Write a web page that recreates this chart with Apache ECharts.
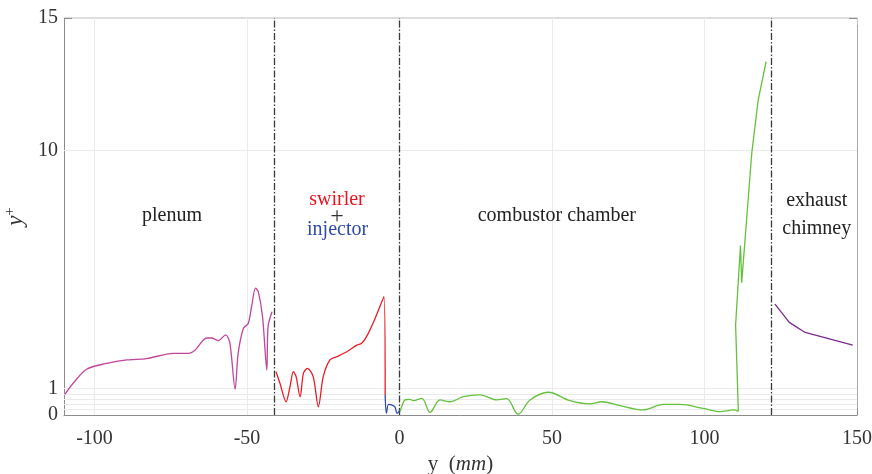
<!DOCTYPE html>
<html>
<head>
<meta charset="utf-8">
<script src="https://cdn.jsdelivr.net/npm/echarts@6/dist/echarts.min.js"></script>
<style>
  html, body { margin: 0; padding: 0; background: #fff; }
  #chart { width: 872px; height: 474px; }
</style>
</head>
<body>
<div id="chart"></div>
<script>
// y+ along the wall, [y (mm), y+] per zone
const plenum = [[-109.7,0.78],[-107,1.2],[-102.6,1.73],[-96,1.95],[-89.4,2.08],[-82.9,2.13],[-74.2,2.33],
  [-69.2,2.33],[-67,2.46],[-63.2,2.91],[-61.6,2.91],[-59.4,2.81],[-57,3.03],[-55.6,2.71],[-53.9,0.98],
  [-52.9,2.33],[-51.2,3.27],[-49.6,3.46],[-48.5,4.09],[-47.2,4.79],[-46.3,4.66],[-44.9,3.71],[-43.5,1.7],
  [-43.1,3.34],[-41.8,3.9]];
const swirler = [[-40.5,1.64],[-39.2,1.2],[-37.2,0.5],[-35.9,1.07],[-34.8,1.64],[-33.9,1.45],[-32.6,0.69],
  [-31.5,1.57],[-30.2,1.76],[-28.3,1.45],[-26.6,0.31],[-25,1.45],[-22.8,2.08],[-20.6,2.2],[-17.3,2.39],
  [-14,2.64],[-12.4,2.71],[-10.8,2.96],[-8,3.65],[-5.1,4.47],[-4.7,0.76]];
const injector = [[-4.7,0.76],[-4.3,0.06],[-3.6,0.4],[-2.6,0.38],[-1.5,0.31],[-0.8,0.06],[0.1,0.2]];
const combustorWall = [[0.16,0.13],[0.7,0.31],[1.8,0.57],[3.4,0.59],[4.5,0.54],[7.3,0.63],[10,0.1],[13.3,0.57],
  [16.6,0.5],[20.9,0.69],[26.4,0.76],[31.9,0.57],[35.1,0.62],[38.9,0.03],[42.8,0.57],[48.8,0.86],
  [55.9,0.54],[62.5,0.42],[66.3,0.5],[72.3,0.35],[79.9,0.19],[86.5,0.4],[92,0.4],[99.6,0.25],
  [105.1,0.13],[109.5,0.19],[111.1,0.14]];
const combustorOutlet = [[111.1,0.14],[110.2,3.4],[111.8,6.4],[112.2,5.0],[115.5,9.9],[117.6,11.9],[120.2,13.35]];
const exhaust = [[123.1,4.19],[127.8,3.5],[133,3.12],[148.6,2.64]];

const boundaries = [-41, 0, 122];
const xTicks = [-100, -50, 0, 50, 100, 150];
const yTicks = [0, 1, 10, 15];
const yMinorTicks = [0, 0.2, 0.4, 0.6, 0.8, 1, 10, 15];
const xGrid = [-100, -50, 0, 50, 100];
const yGrid = [0.2, 0.4, 0.6, 0.8, 1, 10];

// zone labels: [text, x, y, colour, size]
const zoneLabels = [
  ['plenum', -74.6, 7.52, '#222', 20],
  ['swirler', -20.5, 8.12, '#e8141f', 20],
  ['+', -20.5, 7.5, '#333', 24],
  ['injector', -20.3, 6.99, '#2f4aa8', 20],
  ['combustor chamber', 51.6, 7.52, '#222', 20],
  ['exhaust', 136.8, 8.08, '#222', 20],
  ['chimney', 136.8, 7.03, '#222', 20]
];

const serif = 'Liberation Serif';
let chart = echarts.init(document.getElementById('chart'));

function zone(data, color, smooth) {
  return {
    type: 'line', data: data, showSymbol: false, symbol: 'none', z: 5, smooth: smooth,
    lineStyle: {color: color, width: 1.3}, itemStyle: {color: color}
  };
}

let option = {
  animation: false,
  grid: {left: 64, right: 15, top: 18, bottom: 59, outerBoundsMode: 'none', containLabel: false},
  xAxis: [{
    type: 'value', min: -110, max: 150,
    name: 'y  ({i|mm})', nameLocation: 'middle', nameGap: 38,
    nameTextStyle: {fontFamily: serif, fontSize: 21, color: '#333',
      rich: {i: {fontFamily: serif, fontStyle: 'italic', fontSize: 21, color: '#333'}}},
    axisLine: {onZero: false, lineStyle: {color: '#8c8c8c', width: 1}},
    axisTick: {inside: true, length: 7, customValues: xTicks, lineStyle: {color: '#8c8c8c'}},
    axisLabel: {customValues: xTicks, fontFamily: serif, fontSize: 20, color: '#333', margin: 14},
    splitLine: {show: false}
  }, {
    type: 'value', min: -110, max: 150, position: 'top',
    axisLine: {onZero: false, lineStyle: {color: '#d4d4d4', width: 1.5}},
    axisTick: {inside: true, length: 7, customValues: xTicks, lineStyle: {color: '#c8c8c8'}},
    axisLabel: {show: false}, splitLine: {show: false}
  }],
  yAxis: [{
    type: 'value', min: 0, max: 15,
    name: '{i|y}{s|+}', nameLocation: 'middle', nameGap: 31, nameRotate: 90,
    nameTextStyle: {rich: {
      i: {fontFamily: serif, fontStyle: 'italic', fontSize: 23, color: '#333'},
      s: {fontFamily: serif, fontSize: 15, color: '#333', verticalAlign: 'bottom', padding: [0, 0, 12, 0]}
    }},
    axisLine: {onZero: false, lineStyle: {color: '#8c8c8c', width: 1}},
    axisTick: {inside: true, length: 8, customValues: yMinorTicks, lineStyle: {color: '#8c8c8c'}},
    axisLabel: {customValues: yTicks, fontFamily: serif, fontSize: 20, color: '#333', margin: 6},
    splitLine: {show: false}
  }, {
    type: 'value', min: 0, max: 15, position: 'right',
    axisLine: {onZero: false, lineStyle: {color: '#a8a8a8', width: 1}},
    axisTick: {inside: true, length: 8, customValues: yMinorTicks, lineStyle: {color: '#8c8c8c'}},
    axisLabel: {show: false}, splitLine: {show: false}
  }],
  series: [
    {
      // grid lines
      type: 'line', data: [], z: 1, silent: true,
      markLine: {
        silent: true, symbol: 'none', label: {show: false}, animation: false,
        data: xGrid.map(v => ({xAxis: v, lineStyle: {color: '#ebebeb', width: 1, type: 'solid'}}))
          .concat(yGrid.map(v => ({yAxis: v, lineStyle: {color: '#ebebeb', width: 1, type: 'solid'}})))
      }
    },
    {
      // zone boundaries
      type: 'line', data: [], z: 4, silent: true,
      markLine: {
        silent: true, symbol: 'none', label: {show: false}, animation: false,
        data: boundaries.map(v => ({xAxis: v})),
        lineStyle: {color: '#3a3a3a', width: 1.3, type: [7, 2, 1.5, 2]}
      }
    },
    zone(plenum, '#c0469c', 0.3),
    zone(swirler, '#ec1c24', 0.3),
    zone(injector, '#2d4ca8', 0.3),
    zone(combustorWall, '#64c13c', 0.35),
    zone(combustorOutlet, '#64c13c', false),
    zone(exhaust, '#7b2b8c', false)
  ]
};
chart.setOption(option);

chart.setOption({
  graphic: zoneLabels.map(l => {
    let p = chart.convertToPixel({gridIndex: 0}, [l[1], l[2]]);
    return {
      type: 'text', x: p[0], y: p[1], z: 10,
      style: {text: l[0], fill: l[3], font: l[4] + 'px "' + serif + '"', align: 'center', verticalAlign: 'middle'}
    };
  })
});
</script>
</body>
</html>
